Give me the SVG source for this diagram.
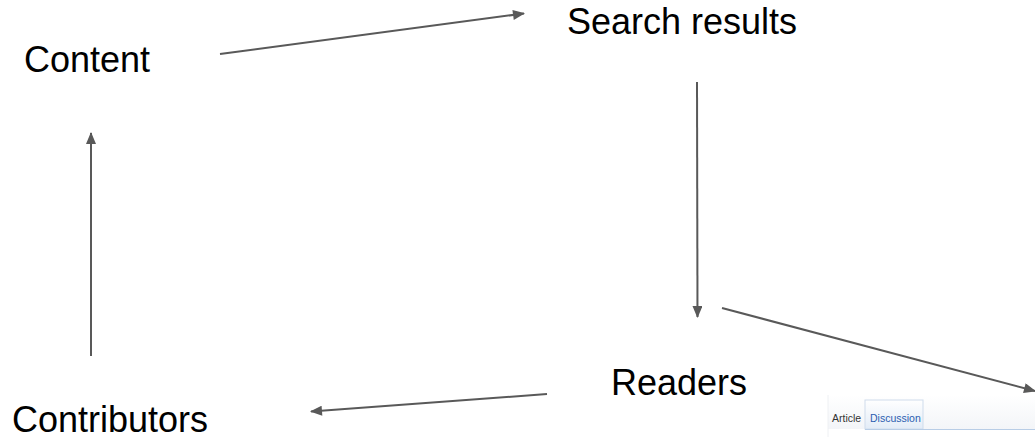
<svg xmlns="http://www.w3.org/2000/svg" width="1035" height="437" viewBox="0 0 1035 437">
<style>
.lbl{font-family:"Liberation Sans",Arial,sans-serif;font-size:36px;fill:#000}
.edge{stroke:#595959;stroke-width:2;fill:none;marker-end:url(#ah)}
.tab{font-family:"Liberation Sans",Arial,sans-serif;font-size:10.5px}
</style>
<defs>
<marker id="ah" viewBox="0 0 12 10" refX="11" refY="5" markerWidth="6.5" markerHeight="5" orient="auto" markerUnits="strokeWidth">
<path d="M0,0 L12,5 L0,10 Z" fill="#595959"/>
</marker>
<linearGradient id="pg" x1="0" y1="0" x2="0" y2="1">
<stop offset="0" stop-color="#ffffff"/>
<stop offset="1" stop-color="#f3f5f8"/>
</linearGradient>
<linearGradient id="dg" x1="0" y1="0" x2="0" y2="1">
<stop offset="0" stop-color="#ffffff"/>
<stop offset="1" stop-color="#e3ecf7"/>
</linearGradient>
</defs>
<g id="screenshot">
<rect x="828" y="395" width="207" height="34" fill="url(#pg)"/>
<line x1="828" y1="395" x2="828" y2="437" stroke="#eef0f3" stroke-width="1"/>
<rect x="865" y="400" width="58" height="29" fill="url(#dg)" stroke="#cfdcec" stroke-width="1"/>
<line x1="865" y1="429.5" x2="1035" y2="429.5" stroke="#b8cde6" stroke-width="1"/>
<text class="tab" x="832" y="422" fill="#333">Article</text>
<text class="tab" x="870" y="422" fill="#2a5db0">Discussion</text>
</g>
<g id="connectors">
<line class="edge" x1="220" y1="54" x2="524" y2="13.5"/>
<line class="edge" x1="697" y1="82" x2="697.5" y2="317"/>
<line class="edge" x1="547" y1="394" x2="311" y2="411.5"/>
<line class="edge" x1="722" y1="308" x2="1035" y2="391"/>
<line class="edge" x1="91" y1="356" x2="91" y2="133"/>
</g>
<g id="content"><text class="lbl" x="24" y="72">Content</text></g>
<g id="search-results"><text class="lbl" x="567" y="34">Search results</text></g>
<g id="readers"><text class="lbl" x="611" y="395">Readers</text></g>
<g id="contributors"><text class="lbl" x="12" y="432">Contributors</text></g>
</svg>
